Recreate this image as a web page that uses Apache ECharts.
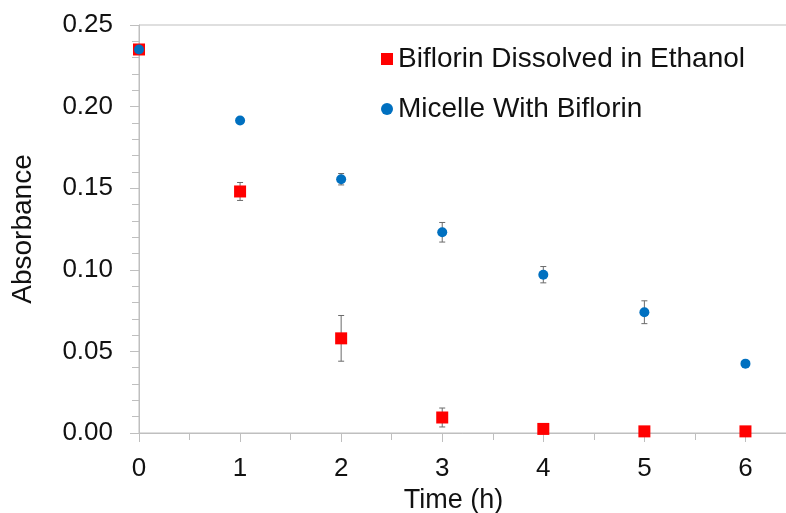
<!DOCTYPE html>
<html>
<head>
<meta charset="utf-8">
<script src="https://cdn.jsdelivr.net/npm/echarts@6/dist/echarts.min.js"></script>
<style>
  html, body { margin: 0; padding: 0; background: #fff; }
  #main { width: 786px; height: 513px; }
</style>
</head>
<body>
<div id="main"></div>
<script>
var times = [0, 1, 2, 3, 4, 5, 6];
var ethanolValues = [0.235, 0.148, 0.058, 0.0095, 0.0025, 0.001, 0.001];
var ethanolErrors = [0, 0.0055, 0.014, 0.0058, 0, 0, 0];
var micelleValues = [0.235, 0.1915, 0.1555, 0.123, 0.097, 0.074, 0.0425];
var micelleErrors = [0, 0.0015, 0.0035, 0.006, 0.005, 0.007, 0];
var yTicks = [0, 0.05, 0.10, 0.15, 0.20, 0.25];

var myChart = echarts.init(document.getElementById('main'));

function points(values)
{
    var out = [];
    for (var i = 0; i < times.length; i++) {
        out.push([times[i], values[i]]);
    }
    return out;
}

function errorData(values, errors)
{
    var out = [];
    for (var i = 0; i < times.length; i++) {
        if (errors[i] > 0) {
            out.push([times[i], values[i] - errors[i], values[i] + errors[i]]);
        }
    }
    return out;
}

function renderErrorBar(params, api)
{
    var x = api.value(0);
    var lo = api.coord([x, api.value(1)]);
    var hi = api.coord([x, api.value(2)]);
    var cap = 3;
    var style = { stroke: '#6b6b6b', lineWidth: 1 };
    return {
        type: 'group',
        children: [
            { type: 'line', shape: { x1: lo[0], y1: lo[1], x2: hi[0], y2: hi[1] }, style: style },
            { type: 'line', shape: { x1: lo[0] - cap, y1: lo[1], x2: lo[0] + cap, y2: lo[1] }, style: style },
            { type: 'line', shape: { x1: hi[0] - cap, y1: hi[1], x2: hi[0] + cap, y2: hi[1] }, style: style }
        ]
    };
}

var fontFamily = 'Liberation Sans, Arial, sans-serif';
var axisGray = '#bfbfbf';

var option = {
    animation: false,
    textStyle: { fontFamily: fontFamily },
    grid: {
        left: 139,
        top: 25,
        bottom: 80,
        right: -10,
        outerBoundsMode: 'none',
        containLabel: false,
        show: true,
        borderColor: axisGray,
        borderWidth: 1
    },
    legend: {
        orient: 'vertical',
        left: 376,
        top: 40,
        itemWidth: 12,
        itemHeight: 12,
        itemGap: 22,
        itemTextGap: 9,
        textStyle: { fontSize: 28, color: '#111', fontFamily: fontFamily },
        data: [
            { name: 'Biflorin Dissolved in Ethanol', icon: 'rect' },
            { name: 'Micelle With Biflorin', icon: 'circle' }
        ]
    },
    xAxis: {
        type: 'value',
        min: 0,
        max: 6.5,
        interval: 1,
        name: 'Time (h)',
        nameLocation: 'middle',
        nameGap: 54,
        nameTextStyle: { fontSize: 27, color: '#111', padding: [0, 28, 0, 0] },
        axisLine: { lineStyle: { color: axisGray } },
        axisTick: { show: true, length: 9, lineStyle: { color: axisGray } },
        minorTick: { show: true, splitNumber: 2, length: 7, lineStyle: { color: axisGray } },
        splitLine: { show: false },
        axisLabel: {
            fontSize: 26,
            color: '#111',
            margin: 23,
            showMaxLabel: false,
            formatter: function (v) { return times.indexOf(v) >= 0 ? String(v) : ''; }
        }
    },
    yAxis: {
        type: 'value',
        min: 0,
        max: 0.25,
        interval: 0.05,
        name: 'Absorbance',
        nameLocation: 'middle',
        nameGap: 102,
        nameTextStyle: { fontSize: 28, color: '#111' },
        axisLine: { show: true, lineStyle: { color: axisGray } },
        axisTick: { show: true, length: 9, lineStyle: { color: axisGray } },
        minorTick: { show: true, splitNumber: 5, length: 7, lineStyle: { color: axisGray } },
        splitLine: { show: false },
        axisLabel: {
            fontSize: 26,
            color: '#111',
            margin: 26,
            formatter: function (v) {
                for (var i = 0; i < yTicks.length; i++) {
                    if (Math.abs(yTicks[i] - v) < 1e-9) return yTicks[i].toFixed(2);
                }
                return '';
            }
        }
    },
    series: [
        {
            name: 'ethanolErr',
            type: 'custom',
            renderItem: renderErrorBar,
            encode: { x: 0, y: [1, 2] },
            data: errorData(ethanolValues, ethanolErrors),
            z: 1,
            silent: true
        },
        {
            name: 'micelleErr',
            type: 'custom',
            renderItem: renderErrorBar,
            encode: { x: 0, y: [1, 2] },
            data: errorData(micelleValues, micelleErrors),
            z: 1,
            silent: true
        },
        {
            name: 'Biflorin Dissolved in Ethanol',
            type: 'scatter',
            symbol: 'rect',
            symbolSize: 12,
            itemStyle: { color: '#ff0000', opacity: 1 },
            data: points(ethanolValues),
            z: 3
        },
        {
            name: 'Micelle With Biflorin',
            type: 'scatter',
            symbol: 'circle',
            symbolSize: 10,
            itemStyle: { color: '#0070c0', opacity: 1 },
            data: points(micelleValues),
            z: 4
        }
    ]
};

myChart.setOption(option);
</script>
</body>
</html>
